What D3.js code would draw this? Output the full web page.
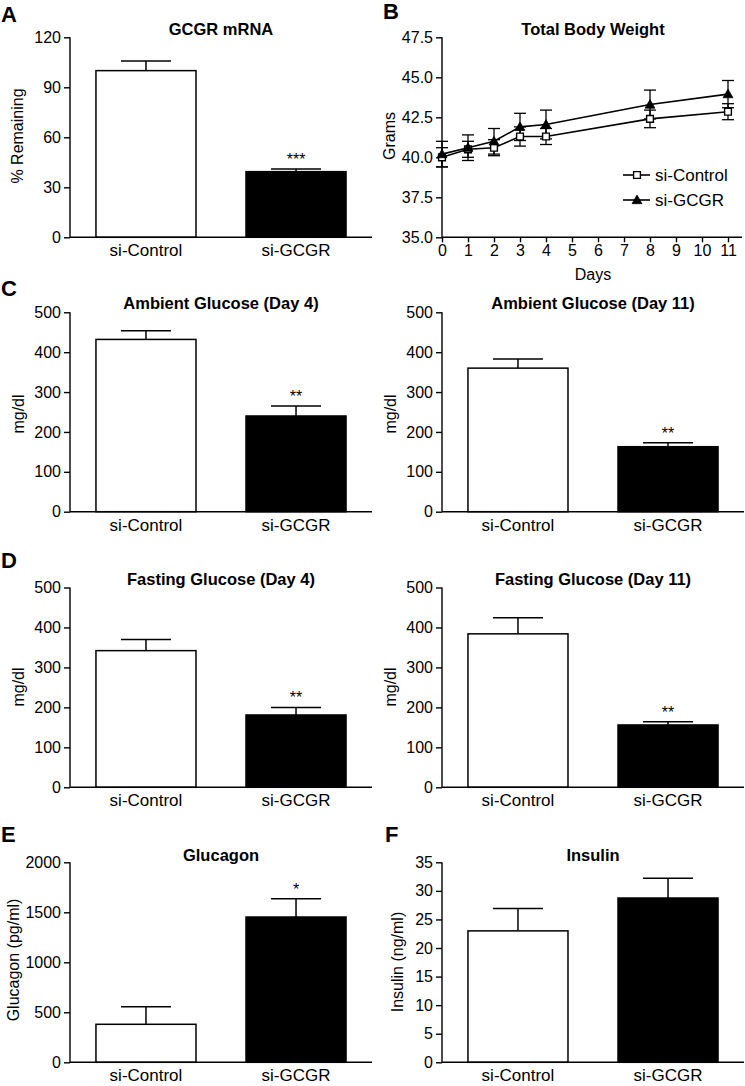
<!DOCTYPE html>
<html>
<head>
<meta charset="utf-8">
<script src="https://cdn.jsdelivr.net/npm/d3@7"></script>
<style>
  html, body { margin: 0; padding: 0; background: #fff; }
  svg { display: block; font-family: "Liberation Sans", Arial, sans-serif; }
  .axis path, .axis line { stroke: #000; stroke-width: 1.4px; }
  .axis text { fill: #000; }
</style>
</head>
<body>
<svg id="chart" width="745" height="1086"></svg>
<script>
// ---------- DATA ----------
const groups = ["si-Control", "si-GCGR"];

// Panel A: GCGR mRNA (% remaining)
const mrnaMean = [100, 39.4];
const mrnaErr = [5.8, 1.6];
const mrnaStars = ["", "***"];
const mrnaTicks = [0, 30, 60, 90, 120];

// Panel B: Total body weight (grams)
const days = [0, 1, 2, 3, 4, 8, 11];
const weightControl = [40.0, 40.5, 40.6, 41.3, 41.3, 42.4, 42.85];
const weightControlErr = [0.6, 0.5, 0.5, 0.6, 0.5, 0.55, 0.5];
const weightGCGR = [40.2, 40.6, 41.0, 41.9, 42.05, 43.3, 43.95];
const weightGCGRErr = [0.8, 0.8, 0.8, 0.85, 0.9, 0.9, 0.85];
const weightTicks = [35.0, 37.5, 40.0, 42.5, 45.0, 47.5];
const dayTicks = [0, 1, 2, 3, 4, 5, 6, 7, 8, 9, 10, 11];

// Panel C: Ambient glucose (mg/dl)
const ambient4Mean = [432, 240];
const ambient4Err = [22, 25];
const ambient11Mean = [360, 163];
const ambient11Err = [23, 10];
// Panel D: Fasting glucose (mg/dl)
const fasting4Mean = [342, 181];
const fasting4Err = [28, 19];
const fasting11Mean = [384, 156];
const fasting11Err = [40, 8];
const glucoseStars = ["", "**"];
const glucoseTicks = [0, 100, 200, 300, 400, 500];

// Panel E: Glucagon (pg/ml)
const glucagonMean = [380, 1453];
const glucagonErr = [176, 183];
const glucagonStars = ["", "*"];
const glucagonTicks = [0, 500, 1000, 1500, 2000];

// Panel F: Insulin (ng/ml)
const insulinMean = [23.0, 28.75];
const insulinErr = [3.9, 3.45];
const insulinStars = ["", ""];
const insulinTicks = [0, 5, 10, 15, 20, 25, 30, 35];

// ---------- DRAWING ----------
const svg = d3.select("#chart");

function panelLetter(letter, x, y) {
  svg.append("text").attr("x", x).attr("y", y)
    .attr("font-size", 22).attr("font-weight", "bold").text(letter);
}

function title(text, cx, cy) {
  svg.append("text").attr("x", cx).attr("y", cy)
    .attr("text-anchor", "middle").attr("font-size", 16.5)
    .attr("font-weight", "bold").text(text);
}

function yLabel(text, cx, cy) {
  svg.append("text")
    .attr("transform", `translate(${cx},${cy}) rotate(-90)`)
    .attr("text-anchor", "middle").attr("dy", "0.35em")
    .attr("font-size", 16).text(text);
}

function barPanel(opt) {
  const { x0, x1, yTop, yBot, max, ticks, means, errs, stars, fmt } = opt;
  const x = d3.scaleBand().domain(groups).range([x0, x1])
    .paddingInner(1 / 3).paddingOuter(0.173);
  const y = d3.scaleLinear().domain([0, max]).range([yBot, yTop]);
  const g = svg.append("g");

  const data = groups.map((k, i) => ({ k, m: means[i], e: errs[i], s: stars[i], i }));

  // error bars (upward only)
  const eb = g.append("g");
  data.forEach(d => {
    const cx = x(d.k) + x.bandwidth() / 2;
    eb.append("line").attr("x1", cx).attr("x2", cx)
      .attr("y1", y(d.m)).attr("y2", y(d.m + d.e))
      .attr("stroke", "#000").attr("stroke-width", 1.5);
    eb.append("line").attr("x1", cx - 25).attr("x2", cx + 25)
      .attr("y1", y(d.m + d.e)).attr("y2", y(d.m + d.e))
      .attr("stroke", "#000").attr("stroke-width", 1.5);
    if (d.s) {
      g.append("text").attr("x", cx).attr("y", y(d.m + d.e) - 4)
        .attr("text-anchor", "middle").attr("font-size", 16).text(d.s);
    }
  });

  g.selectAll("rect.bar").data(data).enter().append("rect")
    .attr("class", "bar")
    .attr("x", d => x(d.k)).attr("width", x.bandwidth())
    .attr("y", d => y(d.m)).attr("height", d => y(0) - y(d.m))
    .attr("fill", d => d.i === 0 ? "#fff" : "#000")
    .attr("stroke", "#000").attr("stroke-width", 1.5);

  // axes
  const ya = g.append("g").attr("class", "axis")
    .attr("transform", `translate(${x0},0)`)
    .call(d3.axisLeft(y).tickValues(ticks).tickSize(6).tickPadding(3).tickFormat(fmt || d3.format("d")));
  ya.select(".domain").remove();
  ya.selectAll(".tick text").attr("font-size", 16);
  ya.append("line").attr("x1", 0).attr("x2", 0).attr("y1", yBot).attr("y2", yTop)
    .attr("stroke", "#000").attr("stroke-width", 1.4);

  const xa = g.append("g").attr("class", "axis")
    .attr("transform", `translate(0,${yBot})`)
    .call(d3.axisBottom(x).tickSize(0).tickPadding(8));
  xa.select(".domain").remove();
  xa.append("line").attr("x1", x0).attr("x2", x1).attr("y1", 0).attr("y2", 0)
    .attr("stroke", "#000").attr("stroke-width", 1.4);
  xa.selectAll(".tick text").attr("font-size", 17).attr("dy", "0.71em").attr("y", 7);
}

const L0 = 70, L1 = 372, R0 = 442, R1 = 744;

// ----- A -----
panelLetter("A", 1, 21.7);
title("GCGR mRNA", (L0 + L1) / 2, 35);
barPanel({ x0: L0, x1: L1, yTop: 37.3, yBot: 237.3, max: 120, ticks: mrnaTicks,
  means: mrnaMean, errs: mrnaErr, stars: mrnaStars });
yLabel("% Remaining", 17, 136);

// ----- B -----
panelLetter("B", 383, 18.5);
title("Total Body Weight", (R0 + R1) / 2, 35);
(function () {
  const yTop = 37.3, yBot = 237.3;
  const x = d3.scaleLinear().domain([0, 11.5]).range([R0, 741]);
  const y = d3.scaleLinear().domain([35, 47.5]).range([yBot, yTop]);
  const g = svg.append("g");

  const xa = g.append("g").attr("class", "axis").attr("transform", `translate(0,${yBot})`)
    .call(d3.axisBottom(x).tickValues(dayTicks).tickSize(5).tickPadding(2).tickFormat(d3.format("d")));
  xa.select(".domain").remove();
  xa.append("line").attr("x1", R0).attr("x2", 742).attr("y1", 0).attr("y2", 0)
    .attr("stroke", "#000").attr("stroke-width", 1.4);
  xa.selectAll(".tick text").attr("font-size", 16);

  const ya = g.append("g").attr("class", "axis").attr("transform", `translate(${R0},0)`)
    .call(d3.axisLeft(y).tickValues(weightTicks).tickSize(6).tickPadding(3).tickFormat(d3.format(".1f")));
  ya.select(".domain").remove();
  ya.selectAll(".tick text").attr("font-size", 16);
  ya.append("line").attr("x1", 0).attr("x2", 0).attr("y1", yBot).attr("y2", yTop)
    .attr("stroke", "#000").attr("stroke-width", 1.4);

  const series = [
    { name: "si-Control", vals: weightControl, errs: weightControlErr, shape: "square" },
    { name: "si-GCGR", vals: weightGCGR, errs: weightGCGRErr, shape: "triangle" }
  ];
  const line = d3.line().x(d => x(d[0])).y(d => y(d[1]));

  series.forEach(s => {
    const pts = days.map((d, i) => [d, s.vals[i], s.errs[i]]);
    g.append("path").attr("d", line(pts)).attr("fill", "none")
      .attr("stroke", "#000").attr("stroke-width", 1.6);
    pts.forEach(p => {
      const cx = x(p[0]);
      g.append("line").attr("x1", cx).attr("x2", cx)
        .attr("y1", y(p[1] - p[2])).attr("y2", y(p[1] + p[2]))
        .attr("stroke", "#000").attr("stroke-width", 1.3);
      [p[1] - p[2], p[1] + p[2]].forEach(v => {
        g.append("line").attr("x1", cx - 6).attr("x2", cx + 6)
          .attr("y1", y(v)).attr("y2", y(v))
          .attr("stroke", "#000").attr("stroke-width", 1.3);
      });
    });
  });
  const sq = d3.symbol().type(d3.symbolSquare).size(46);
  const tri = d3.symbol().type(d3.symbolTriangle).size(42);
  series.forEach(s => {
    days.forEach((d, i) => {
      g.append("path")
        .attr("d", s.shape === "square" ? sq() : tri())
        .attr("transform", `translate(${x(d)},${y(s.vals[i]) + (s.shape === "triangle" ? 0.8 : 0)})`)
        .attr("fill", s.shape === "square" ? "#fff" : "#000")
        .attr("stroke", "#000").attr("stroke-width", s.shape === "square" ? 1.4 : 0.8);
    });
  });

  // legend
  const lg = g.append("g");
  series.forEach((s, i) => {
    const ly = 175 + i * 25;
    lg.append("line").attr("x1", 623).attr("x2", 650).attr("y1", ly).attr("y2", ly)
      .attr("stroke", "#000").attr("stroke-width", 1.6);
    lg.append("path").attr("d", s.shape === "square" ? sq() : tri())
      .attr("transform", `translate(637,${ly + (s.shape === "triangle" ? 0.8 : 0)})`)
      .attr("fill", s.shape === "square" ? "#fff" : "#000")
      .attr("stroke", "#000").attr("stroke-width", s.shape === "square" ? 1.4 : 0.8);
    lg.append("text").attr("x", 655).attr("y", ly).attr("dy", "0.35em")
      .attr("font-size", 17).text(s.name);
  });

  svg.append("text").attr("x", 593).attr("y", 280).attr("text-anchor", "middle")
    .attr("font-size", 16).text("Days");
  yLabel("Grams", 389, 136);
})();

// ----- C -----
panelLetter("C", 1, 295.5);
title("Ambient Glucose (Day 4)", (L0 + L1) / 2, 308.7);
barPanel({ x0: L0, x1: L1, yTop: 312.3, yBot: 511.7, max: 500, ticks: glucoseTicks,
  means: ambient4Mean, errs: ambient4Err, stars: glucoseStars });
yLabel("mg/dl", 18, 414);

title("Ambient Glucose (Day 11)", (R0 + R1) / 2, 308.7);
barPanel({ x0: R0, x1: R1, yTop: 312.3, yBot: 511.7, max: 500, ticks: glucoseTicks,
  means: ambient11Mean, errs: ambient11Err, stars: glucoseStars });
yLabel("mg/dl", 390, 414);

// ----- D -----
panelLetter("D", 1, 568);
title("Fasting Glucose (Day 4)", (L0 + L1) / 2, 585.3);
barPanel({ x0: L0, x1: L1, yTop: 587.5, yBot: 787.3, max: 500, ticks: glucoseTicks,
  means: fasting4Mean, errs: fasting4Err, stars: glucoseStars });
yLabel("mg/dl", 18, 687);

title("Fasting Glucose (Day 11)", (R0 + R1) / 2, 585.3);
barPanel({ x0: R0, x1: R1, yTop: 587.5, yBot: 787.3, max: 500, ticks: glucoseTicks,
  means: fasting11Mean, errs: fasting11Err, stars: glucoseStars });
yLabel("mg/dl", 390, 687);

// ----- E -----
panelLetter("E", 1, 842);
title("Glucagon", (L0 + L1) / 2, 861);
barPanel({ x0: L0, x1: L1, yTop: 862.3, yBot: 1062.3, max: 2000, ticks: glucagonTicks,
  means: glucagonMean, errs: glucagonErr, stars: glucagonStars });
yLabel("Glucagon (pg/ml)", 13, 960);

// ----- F -----
panelLetter("F", 385, 842);
title("Insulin", (R0 + R1) / 2, 861);
barPanel({ x0: R0, x1: R1, yTop: 862.3, yBot: 1062.3, max: 35, ticks: insulinTicks,
  means: insulinMean, errs: insulinErr, stars: insulinStars });
yLabel("Insulin (ng/ml)", 397, 962);
</script>
</body>
</html>
